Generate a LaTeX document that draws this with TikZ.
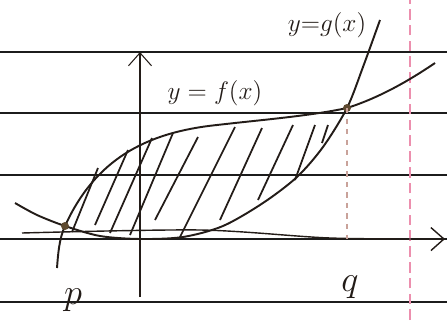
\documentclass[tikz,border=0pt]{standalone}
\usepackage{amsmath}
\usepackage{xcolor}
\definecolor{penInk}{HTML}{231C18}
\definecolor{ruleInk}{HTML}{1C1C1C}
\definecolor{marginPink}{HTML}{EC8FAE}
\definecolor{dropInk}{HTML}{C9A29A}
\definecolor{dotInk}{HTML}{5E4A30}
\usepackage{tikz}
\usetikzlibrary{arrows.meta}

\begin{document}
\begin{tikzpicture}[>={Straight Barb[length=2.6mm,width=4.6mm]}]
  \useasboundingbox (0,0) rectangle (8.94,6.4);
  % ------- notebook paper -------
  \foreach \y in {5.36,4.14,2.90,1.62,0.36} {
    \draw[ruleInk, line width=1.1pt] (0,\y) -- (8.94,\y);
  }
  \draw[marginPink, line width=0.8pt, dash pattern=on 6pt off 3pt] (8.2,0) -- (8.2,6.4);
  % ------- axes -------
  \draw[->, penInk, line width=0.6pt] (2.8,0.46) -- (2.8,5.36);
  \draw[->, penInk, line width=0.8pt] plot[smooth] coordinates {(0.44,1.74) (4.0,1.80) (6.6,1.64) (8.9,1.62)};
  % ------- the two curves -------
  \coordinate (P) at (1.30,1.88);
  \coordinate (Q) at (6.94,4.24);
  \draw[penInk, line width=1.1pt] (1.14,1.04) .. controls (1.16,1.30) and (1.18,1.62) .. (P)
    .. controls (1.90,3.20) and (2.90,3.75) .. (4.34,3.90)
    .. controls (5.20,4.00) and (6.20,4.08) .. (Q)
    .. controls (7.60,4.45) and (8.20,4.80) .. (8.70,5.14);
  \draw[penInk, line width=1.1pt] plot[smooth] coordinates {(0.30,2.34) (0.74,2.10) (1.30,1.88) (2.0,1.68) (2.8,1.62) (3.66,1.66) (4.46,1.88) (5.26,2.34) (5.94,2.86) (6.46,3.46) (6.94,4.24) (7.26,5.06) (7.60,6.00)};
  % ------- hatching between them -------
  \foreach \xa/\ya/\xb/\yb in {1.44/1.76/1.96/3.04, 1.90/1.90/2.56/3.40, 2.20/1.74/3.04/3.64,
      2.60/1.70/3.46/3.74, 3.10/2.00/3.96/3.66, 3.60/1.66/4.70/3.86, 4.40/2.00/5.24/3.84,
      5.16/2.40/5.86/3.90, 5.90/2.80/6.30/3.90, 6.44/3.54/6.56/3.90} {
    \draw[penInk, line width=1pt] (\xa,\ya) -- (\xb,\yb);
  }
  % ------- meeting points -------
  \fill[dotInk] (P) circle (0.08);
  \fill[dotInk] (Q) circle (0.08);
  \draw[dropInk, line width=0.6pt, dashed] (Q) -- (6.94,1.62);
  % ------- labels -------
  \node[penInk] (glabel) at (6.54,5.90) {\Large $y{=}g(x)$};
  \node[penInk] (flabel) at (4.30,4.54) {\Large $y = f(x)$};
  \node[penInk] (plabel) at (1.46,0.40) {\huge $p$};
  \node[penInk] (qlabel) at (7.00,0.66) {\huge $q$};
\end{tikzpicture}
\end{document}
